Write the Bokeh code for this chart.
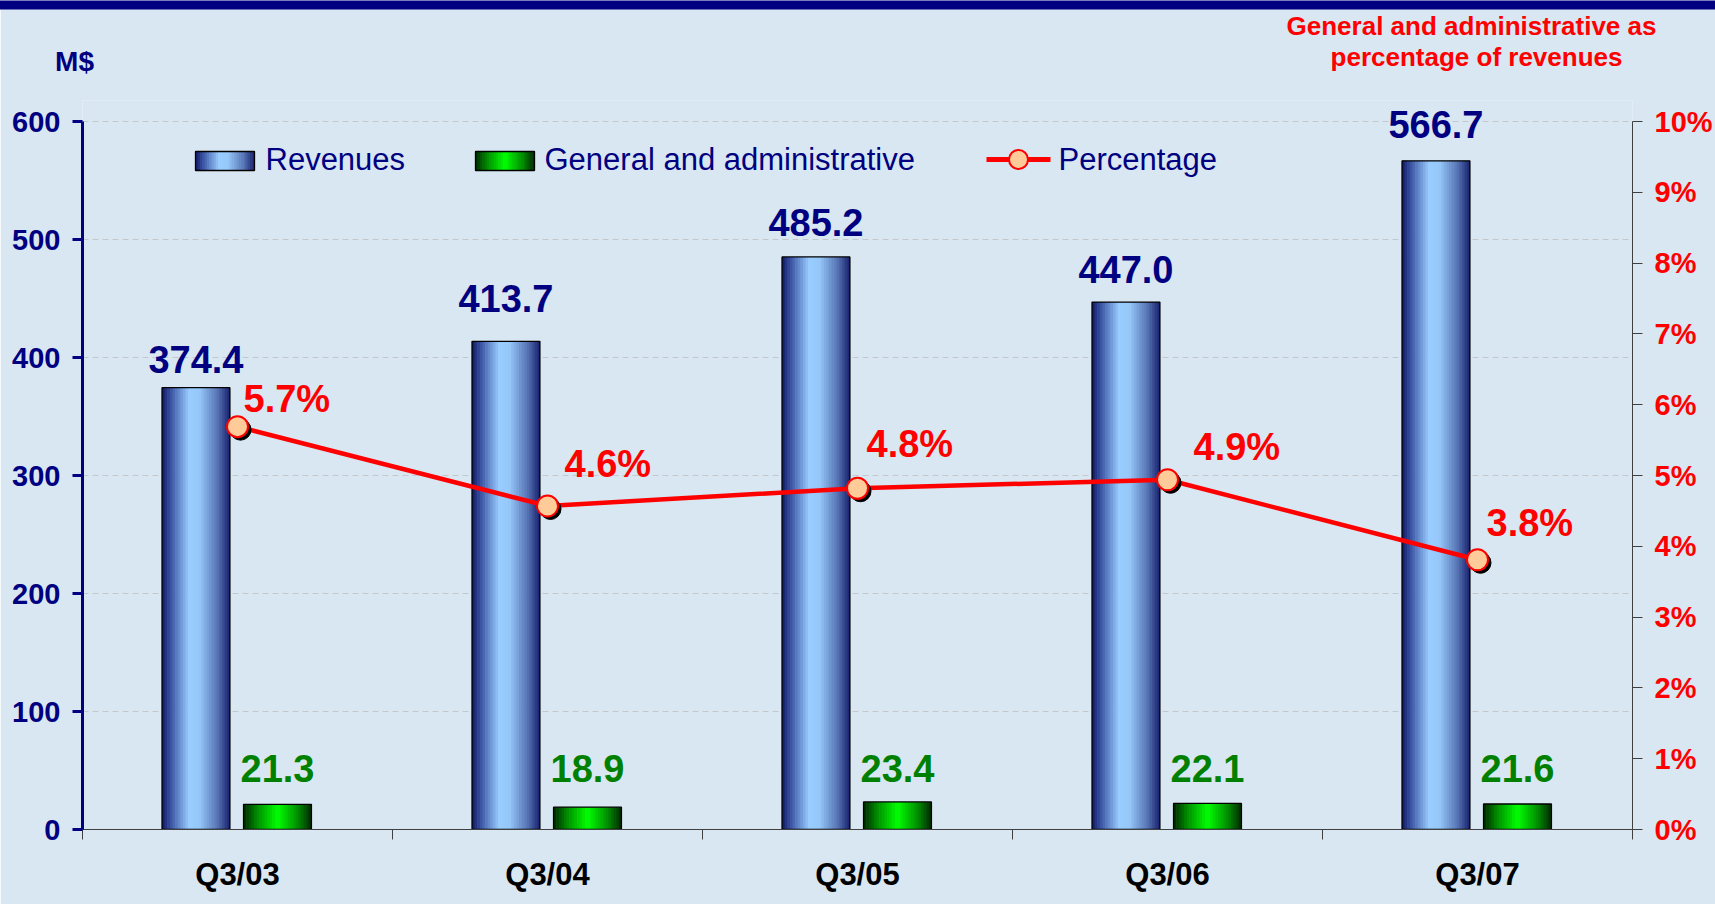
import numpy as np
from bokeh.plotting import figure
from bokeh.models import ColumnDataSource, Range1d, LinearAxis, FixedTicker, Label
from bokeh.core.properties import value
from bokeh.embed import file_html
from bokeh.resources import INLINE

# ---------------- data ----------------
categories = ["Q3/03", "Q3/04", "Q3/05", "Q3/06", "Q3/07"]
revenues = [374.4, 413.7, 485.2, 447.0, 566.7]
ga = [21.3, 18.9, 23.4, 22.1, 21.6]
pct = [5.69, 4.57, 4.82, 4.94, 3.81]
revenue_labels = ["374.4", "413.7", "485.2", "447.0", "566.7"]
ga_labels = ["21.3", "18.9", "23.4", "22.1", "21.6"]
pct_labels = ["5.7%", "4.6%", "4.8%", "4.9%", "3.8%"]
left_ticks = [0, 100, 200, 300, 400, 500, 600]
right_ticks = [0, 1, 2, 3, 4, 5, 6, 7, 8, 9, 10]
right_tick_labels = ["0%", "1%", "2%", "3%", "4%", "5%", "6%", "7%", "8%", "9%", "10%"]
series_names = ["Revenues", "General and administrative", "Percentage"]
left_title = "M$"
right_title = ["General and administrative as", "percentage of revenues"]

# ---------------- style / layout ----------------
FONT_NAME = "Liberation Sans"
FONT = value(FONT_NAME)
BG = "#D8E7F1"
NAVY = "#000080"
RED = "#FF0000"
GREEN = "#008000"
PEACH = "#FFCC99"
W, H = 1715, 904
FX0, FX1, FY0, FY1 = 82, 1632, 829, 121     # axis extents in page pixels
FRAME_TOP = 100                              # frame extends a little above the 600 line
XMAX, YMAX, PMAX = 5, 600, 10
BASE_FIX = 0.36                              # baseline correction (in em)
Y_END = YMAX * (FY0 - FRAME_TOP) / (FY0 - FY1)
P_END = PMAX * (FY0 - FRAME_TOP) / (FY0 - FY1)


def dx(px):
    return (px - FX0) / (FX1 - FX0) * XMAX


def dy(py):
    return (FY0 - py) / (FY0 - FY1) * YMAX


REV_OFF, GA_OFF, BAR_W = -0.134, 0.129, 0.219
rev_stops = [(0.0, (16, 24, 100)), (0.12, (55, 80, 160)), (0.40, (153, 204, 255)),
             (0.55, (150, 200, 250)), (0.82, (85, 115, 180)), (1.0, (22, 32, 108))]
ga_stops = [(0.0, (0, 40, 0)), (0.2, (0, 140, 0)), (0.5, (0, 255, 0)),
            (0.8, (0, 140, 0)), (1.0, (0, 40, 0))]
rev_label_gap = [15, 29, 21, 19, 23]
pct_dx = [6, 17, 9, 26, 9]
pct_dy = [14, 28, 31, 19, 23]
VAL_SIZE = 38
LEG_SIZE = 31
TITLE_SIZE = 26


def mix(stops, t):
    for (p0, c0), (p1, c1) in zip(stops, stops[1:]):
        if p0 <= t <= p1:
            f = (t - p0) / (p1 - p0)
            return "#%02x%02x%02x" % tuple(int(round(a + (b - a) * f)) for a, b in zip(c0, c1))
    return "#%02x%02x%02x" % stops[-1][1]


N = 26


def strip_source(lefts, rights, bottoms, tops, stops):
    L, R, B, T, C = [], [], [], [], []
    for l, r, b, t in zip(lefts, rights, bottoms, tops):
        w = (r - l) / N
        for j in range(N):
            L.append(l + j * w)
            R.append(min(l + (j + 1.25) * w, r))
            B.append(b)
            T.append(t)
            C.append(mix(stops, (j + 0.5) / N))
    return ColumnDataSource(dict(left=L, right=R, bottom=B, top=T, color=C))


xc = [i + 0.5 for i in range(len(categories))]
rev_x = [x + REV_OFF for x in xc]
ga_x = [x + GA_OFF for x in xc]

p = figure(width=W, height=H, x_range=Range1d(0, XMAX), y_range=Range1d(0, Y_END),
           output_backend="svg", toolbar_location=None,
           min_border_left=FX0, min_border_right=W - FX1,
           min_border_top=FRAME_TOP, min_border_bottom=H - FY0,
           background_fill_color=BG, border_fill_color=BG, outline_line_color=None)
p.extra_y_ranges = {"pct": Range1d(0, P_END)}

# grid
p.xgrid.visible = False
p.ygrid.ticker = FixedTicker(ticks=left_ticks[1:])
p.ygrid.grid_line_color = "#C4C8CC"
p.ygrid.grid_line_dash = "6 4"
p.ygrid.grid_line_width = 1

# left axis
ya = p.yaxis[0]
ya.ticker = FixedTicker(ticks=left_ticks)
ya.bounds = (0, YMAX)
ya.axis_line_color = NAVY
ya.axis_line_width = 3
ya.major_tick_line_color = NAVY
ya.major_tick_line_width = 3
ya.major_tick_out = 10
ya.major_tick_in = 0
ya.minor_tick_line_color = None
ya.major_label_text_font = FONT_NAME
ya.major_label_text_font_style = "bold"
ya.major_label_text_font_size = "29px"
ya.major_label_text_color = NAVY
ya.major_label_standoff = 12

# x axis
xa = p.xaxis[0]
xa.ticker = FixedTicker(ticks=xc, minor_ticks=list(range(len(categories) + 1)))
xa.major_label_overrides = {x: c for x, c in zip(xc, categories)}
xa.axis_line_color = "#404040"
xa.axis_line_width = 1
xa.major_tick_line_color = None
xa.major_tick_out = 0
xa.major_tick_in = 0
xa.minor_tick_line_color = "#404040"
xa.minor_tick_out = 10
xa.minor_tick_in = 0
xa.major_label_text_font = FONT_NAME
xa.major_label_text_font_style = "bold"
xa.major_label_text_font_size = "31px"
xa.major_label_text_color = "#000000"
xa.major_label_standoff = 17

# right axis
ra = LinearAxis(y_range_name="pct", ticker=FixedTicker(ticks=right_ticks), bounds=(0, PMAX),
                major_label_overrides={t: s for t, s in zip(right_ticks, right_tick_labels)})
ra.axis_line_color = "#404040"
ra.major_tick_line_color = "#404040"
ra.major_tick_out = 10
ra.major_tick_in = 0
ra.minor_tick_line_color = None
ra.major_label_standoff = 12
ra.major_label_text_font = FONT_NAME
ra.major_label_text_font_style = "bold"
ra.major_label_text_font_size = "29px"
ra.major_label_text_color = RED
p.add_layout(ra, "right")

# revenue bars (gradient strips + outline)
p.quad(left="left", right="right", bottom="bottom", top="top", fill_color="color", line_color=None,
       source=strip_source([x - BAR_W / 2 for x in rev_x], [x + BAR_W / 2 for x in rev_x],
                           [0] * 5, revenues, rev_stops))
p.vbar(x=rev_x, top=revenues, bottom=0, width=BAR_W, fill_color=None, line_color="#000000", line_width=1.3)
# G&A bars
p.quad(left="left", right="right", bottom="bottom", top="top", fill_color="color", line_color=None,
       source=strip_source([x - BAR_W / 2 for x in ga_x], [x + BAR_W / 2 for x in ga_x],
                           [0] * 5, ga, ga_stops))
p.vbar(x=ga_x, top=ga, bottom=0, width=BAR_W, fill_color=None, line_color="#000000", line_width=1.3)

# percentage line
sdx = 3 * XMAX / (FX1 - FX0)
sdy = 3 * PMAX / (FY0 - FY1)
p.line(xc, pct, y_range_name="pct", line_color=RED, line_width=4.5)
p.scatter([x + sdx for x in xc], [v - sdy for v in pct], y_range_name="pct", size=21,
          fill_color="#000000", line_color="#000000")
p.scatter(xc, pct, y_range_name="pct", size=21, fill_color=PEACH, line_color=RED, line_width=2)

# value labels
fix_v = BASE_FIX * VAL_SIZE
p.text(x=rev_x, y=revenues, text=revenue_labels, y_offset=[-g - fix_v for g in rev_label_gap],
       text_align="center", text_baseline="alphabetic", text_font=FONT, text_font_style="bold",
       text_font_size=f"{VAL_SIZE}px", text_color=NAVY)
p.text(x=ga_x, y=[0] * 5, text=ga_labels, y_offset=-47 - fix_v,
       text_align="center", text_baseline="alphabetic", text_font=FONT, text_font_style="bold",
       text_font_size=f"{VAL_SIZE}px", text_color=GREEN)
p.text(x=xc, y=pct, text=pct_labels, y_range_name="pct", x_offset=pct_dx,
       y_offset=[-d - fix_v for d in pct_dy],
       text_align="left", text_baseline="alphabetic", text_font=FONT, text_font_style="bold",
       text_font_size=f"{VAL_SIZE}px", text_color=RED)

# legend (drawn by hand to keep gradient swatches)
for (l, r), stops in [((195, 254), rev_stops), ((475, 534), ga_stops)]:
    p.quad(left="left", right="right", bottom="bottom", top="top", fill_color="color", line_color=None,
           source=strip_source([dx(l)], [dx(r)], [dy(170)], [dy(151)], stops))
    p.quad(left=[dx(l)], right=[dx(r)], bottom=[dy(170)], top=[dy(151)], fill_color=None,
           line_color="#000000", line_width=1.3)
p.line([dx(986), dx(1050)], [dy(159), dy(159)], line_color=RED, line_width=5)
p.scatter([dx(1018)], [dy(159)], size=19, fill_color=PEACH, line_color=RED, line_width=2)
p.text(x=[dx(265), dx(544), dx(1058)], y=[dy(170)] * 3, text=series_names,
       y_offset=-BASE_FIX * LEG_SIZE,
       text_align="left", text_baseline="alphabetic", text_font=FONT, text_font_size=f"{LEG_SIZE}px",
       text_color=NAVY)

# titles, placed in the top panel (canvas pixel positions)
p.add_layout(Label(x=74, y=71 - BASE_FIX * 28, x_units="canvas", y_units="canvas", text=left_title,
                   text_align="center", text_baseline="alphabetic",
                   text_font=FONT_NAME, text_font_style="bold", text_font_size="28px", text_color=NAVY),
             "above")
p.add_layout(Label(x=1471, y=35 - BASE_FIX * TITLE_SIZE, x_units="canvas", y_units="canvas",
                   text=right_title[0], text_align="center", text_baseline="alphabetic",
                   text_font=FONT_NAME, text_font_style="bold", text_font_size=f"{TITLE_SIZE}px",
                   text_color=RED),
             "above")
p.add_layout(Label(x=1476, y=66 - BASE_FIX * TITLE_SIZE, x_units="canvas", y_units="canvas",
                   text=right_title[1], text_align="center", text_baseline="alphabetic",
                   text_font=FONT_NAME, text_font_style="bold", text_font_size=f"{TITLE_SIZE}px",
                   text_color=RED),
             "above")

# navy band across the top of the slide (padding given as (horizontal, vertical))
p.add_layout(Label(x=W / 2, y=4.5, x_units="canvas", y_units="canvas", text=" ",
                   text_align="center", text_baseline="middle", text_font=FONT_NAME,
                   text_font_size="1px", background_fill_color=NAVY, background_fill_alpha=1.0,
                   padding=(W // 2 + 1, 4)),
             "below")

open("out.html", "w").write(file_html(p, INLINE))
